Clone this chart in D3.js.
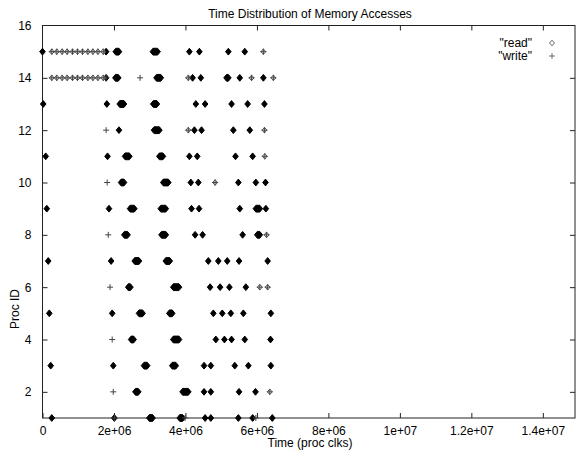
<!DOCTYPE html>
<html>
<head>
<meta charset="utf-8">
<script src="https://cdn.jsdelivr.net/npm/d3@7"></script>
<style>
  html, body { margin: 0; padding: 0; background: #fff; }
  svg { display: block; }
  text { font-family: "Liberation Sans", Arial, Helvetica, sans-serif; }
</style>
</head>
<body>
<svg id="chart" width="576" height="450"></svg>
<script>
// ---------------- data (times in millions of processor clocks) ----------------
const title = "Time Distribution of Memory Accesses";
const xLabel = "Time (proc clks)";
const yLabel = "Proc ID";
const seriesNames = ['"read"', '"write"'];
const xTicks = [0, 2e6, 4e6, 6e6, 8e6, 1e7, 1.2e7, 1.4e7];
const yTicks = [2, 4, 6, 8, 10, 12, 14, 16];

// early single accesses (read + write pairs) of procs 14 and 15
const chainTimes = [0.26, 0.40, 0.55, 0.69, 0.84, 0.98, 1.12, 1.27, 1.41, 1.55, 1.70];

// read clusters: [proc, start time, end time (M clks), accesses in the cluster]
const reads = [
  [15,0.00,0.00,6],[15,1.78,1.78,6],[15,2.05,2.14,9],[15,3.09,3.22,9],[15,4.11,4.11,6],[15,4.39,4.39,6],[15,5.20,5.20,6],[15,5.66,5.66,6],[15,6.18,6.18,1],
  [14,1.78,1.78,6],[14,2.04,2.12,9],[14,3.19,3.31,9],[14,4.08,4.08,1],[14,4.20,4.20,6],[14,4.43,4.43,6],[14,5.15,5.20,9],[14,5.52,5.52,6],[14,5.85,5.85,1],[14,6.18,6.18,6],[14,6.46,6.46,1],
  [13,0.02,0.02,6],[13,1.80,1.80,6],[13,2.16,2.28,9],[13,3.10,3.20,9],[13,4.29,4.29,6],[13,4.55,4.55,6],[13,5.29,5.29,6],[13,5.74,5.74,6],[13,6.21,6.21,6],
  [12,2.14,2.14,9],[12,3.12,3.27,9],[12,4.08,4.08,1],[12,4.25,4.25,6],[12,4.45,4.45,6],[12,5.34,5.34,6],[12,5.80,5.80,6],[12,6.21,6.21,1],
  [11,0.09,0.09,6],[11,1.82,1.82,6],[11,2.31,2.43,9],[11,3.27,3.37,9],[11,4.11,4.11,6],[11,4.33,4.33,6],[11,5.40,5.40,6],[11,5.88,5.88,6],[11,6.22,6.22,1],
  [10,2.20,2.28,9],[10,3.38,3.52,9],[10,4.15,4.15,6],[10,4.36,4.36,6],[10,4.83,4.83,1],[10,5.48,5.48,6],[10,5.97,5.97,6],[10,6.24,6.24,6],
  [9,0.12,0.12,6],[9,1.86,1.86,6],[9,2.45,2.57,9],[9,3.31,3.45,9],[9,4.17,4.17,6],[9,4.38,4.38,6],[9,5.52,5.52,6],[9,5.97,6.08,6],[9,6.25,6.25,6],
  [8,2.29,2.38,9],[8,3.33,3.45,9],[8,4.27,4.27,6],[8,4.48,4.48,6],[8,5.60,5.60,6],[8,6.01,6.08,6],[8,6.27,6.27,1],
  [7,0.16,0.16,6],[7,1.92,1.92,6],[7,2.58,2.70,9],[7,3.45,3.56,9],[7,4.64,4.64,6],[7,4.92,4.92,6],[7,5.17,5.17,6],[7,5.50,5.50,6],[7,6.30,6.30,6],
  [6,2.40,2.46,9],[6,3.66,3.82,9],[6,4.69,4.69,6],[6,4.97,4.97,6],[6,5.23,5.23,6],[6,5.69,5.69,6],[6,6.08,6.08,1],[6,6.30,6.30,1],
  [5,0.19,0.19,6],[5,1.95,1.95,6],[5,2.70,2.80,9],[5,3.55,3.63,9],[5,4.78,4.78,6],[5,5.03,5.03,6],[5,5.27,5.27,6],[5,5.62,5.62,6],[5,6.39,6.39,6],
  [4,2.48,2.55,9],[4,3.66,3.82,9],[4,4.85,4.85,6],[4,5.09,5.09,6],[4,5.29,5.29,6],[4,5.66,5.66,6],[4,6.38,6.38,6],
  [3,0.23,0.23,6],[3,1.98,1.98,6],[3,2.84,2.93,9],[3,3.63,3.73,9],[3,4.52,4.52,6],[3,4.71,4.71,6],[3,5.38,5.38,6],[3,5.76,5.76,6],[3,6.39,6.39,6],
  [2,2.60,2.68,9],[2,3.92,4.08,9],[2,4.52,4.52,6],[2,4.71,4.71,6],[2,5.50,5.50,6],[2,5.96,5.96,6],[2,6.36,6.36,1],
  [1,0.26,0.26,6],[1,2.01,2.01,6],[1,2.99,3.08,9],[1,3.84,3.92,9],[1,4.55,4.55,6],[1,4.71,4.71,6],[1,5.48,5.48,6],[1,5.88,5.88,6],[1,6.43,6.43,6]
];

// writes: [proc, time (M clks)]
const writes = [
  [15,6.18],
  [14,1.78],[14,2.73],[14,4.08],[14,5.85],[14,6.46],
  [12,1.78],[12,4.08],[12,6.21],
  [11,6.22],
  [10,1.81],[10,4.83],
  [8,1.84],[8,6.27],
  [6,1.89],[6,6.08],[6,6.30],
  [4,1.95],
  [2,1.98],[2,6.36],
  [1,2.01],[1,3.99],[1,5.97]
];

// ---------------- layout ----------------
const M = 1e6;
const pLeft = 42.5, pRight = 575, pTop = 25.5, pBottom = 418;
const svg = d3.select("#chart");

const x = d3.scaleLinear().domain([0, 1.49e7]).range([pLeft, pRight]);
const y = d3.scaleLinear().domain([1, 16]).range([pBottom, pTop]);

function expFmt(v) {
  if (v === 0) return "0";
  const [m, e] = v.toExponential().split("e");
  return m + "e" + e[0] + e.slice(1).padStart(2, "0");
}

const ink = "#222";
const fs = 12;

// title and axis labels
svg.append("text").attr("x", 310).attr("y", 18).attr("text-anchor", "middle")
  .attr("font-size", fs).attr("fill", "#000").text(title);
svg.append("text").attr("x", 310).attr("y", 447).attr("text-anchor", "middle")
  .attr("font-size", fs).attr("fill", "#000").text(xLabel);
svg.append("text").attr("transform", "translate(19,309) rotate(-90)").attr("text-anchor", "middle")
  .attr("font-size", fs).attr("fill", "#000").text(yLabel);

// axes (ticks pointing inward, mirrored on top/right)
const tick = 5;
const gx = svg.append("g").attr("transform", `translate(0,${pBottom})`)
  .call(d3.axisBottom(x).tickValues(xTicks).tickFormat(expFmt).tickSizeInner(-tick).tickSizeOuter(0).tickPadding(8));
const gxt = svg.append("g").attr("transform", `translate(0,${pTop})`)
  .call(d3.axisTop(x).tickValues(xTicks).tickFormat("").tickSizeInner(-tick).tickSizeOuter(0));
const gy = svg.append("g").attr("transform", `translate(${pLeft},0)`)
  .call(d3.axisLeft(y).tickValues(yTicks).tickFormat(d3.format("d")).tickSizeInner(-tick).tickSizeOuter(0).tickPadding(11));
const gyr = svg.append("g").attr("transform", `translate(${pRight},0)`)
  .call(d3.axisRight(y).tickValues(yTicks).tickFormat("").tickSizeInner(-tick).tickSizeOuter(0));
[gx, gxt, gy, gyr].forEach(g => {
  g.select(".domain").remove();
  g.selectAll(".tick line").attr("stroke", ink).attr("stroke-width", 1);
  g.selectAll("text").attr("font-size", fs).attr("fill", "#000")
    .attr("font-family", '"Liberation Sans", Arial, sans-serif');
});
gxt.selectAll(".tick").filter(d => d === 0).remove();
gyr.selectAll(".tick").filter(d => d === 16).remove();
gy.selectAll(".tick line").filter(d => d === 16).remove();

// border
svg.append("rect").attr("x", pLeft).attr("y", pTop).attr("width", pRight - pLeft).attr("height", pBottom - pTop)
  .attr("fill", "none").attr("stroke", ink).attr("stroke-width", 1);

// markers
const hw = 2.8, hh = 3.4;
// diamond stretched horizontally from cx0 to cx1 (a point cluster when cx0 === cx1)
function cluster(cx0, cx1, cy, w, h) {
  const p = d3.path();
  p.moveTo(cx0 - w, cy); p.lineTo(cx0, cy - h); p.lineTo(cx1, cy - h); p.lineTo(cx1 + w, cy);
  p.lineTo(cx1, cy + h); p.lineTo(cx0, cy + h); p.closePath();
  return p.toString();
}
function plus(cx, cy, s) {
  const p = d3.path();
  p.moveTo(cx - s, cy); p.lineTo(cx + s, cy); p.moveTo(cx, cy - s); p.lineTo(cx, cy + s);
  return p.toString();
}

const readData = reads.map(([p, t0, t1, n]) => ({ p, t0: t0 * M, t1: t1 * M, n }))
  .concat(chainTimes.flatMap(t => [{ p: 15, t0: t * M, t1: t * M, n: 1 }, { p: 14, t0: t * M, t1: t * M, n: 1 }]));
const writeData = writes.map(([p, t]) => ({ p, t: t * M }))
  .concat(chainTimes.flatMap(t => [{ p: 15, t: t * M }, { p: 14, t: t * M }]));

const plot = svg.append("g");
plot.selectAll("path.read").data(readData).join("path").attr("class", "read")
  .attr("d", d => d.n > 1
    ? cluster(x(d.t0), x(d.t1), y(d.p), hw, hh)
    : cluster(x(d.t0), x(d.t1), y(d.p), 2.4, 2.8))
  .attr("fill", d => d.n > 1 ? "#000" : "#fff")
  .attr("stroke", d => d.n > 1 ? "#000" : "#555")
  .attr("stroke-width", 1);
plot.selectAll("path.write").data(writeData).join("path").attr("class", "write")
  .attr("d", d => plus(x(d.t), y(d.p), 3))
  .attr("fill", "none").attr("stroke", "#444").attr("stroke-width", 1);

// legend
const leg = svg.append("g");
leg.append("text").attr("x", 532).attr("y", 47).attr("text-anchor", "end").attr("font-size", fs).text(seriesNames[0]);
leg.append("text").attr("x", 532).attr("y", 60).attr("text-anchor", "end").attr("font-size", fs).text(seriesNames[1]);
leg.append("path").attr("d", cluster(552, 552, 43, 2.4, 2.8)).attr("fill", "none").attr("stroke", "#666").attr("stroke-width", 1);
leg.append("path").attr("d", plus(552, 56, 2.8)).attr("fill", "none").attr("stroke", "#666").attr("stroke-width", 1);
</script>
</body>
</html>
